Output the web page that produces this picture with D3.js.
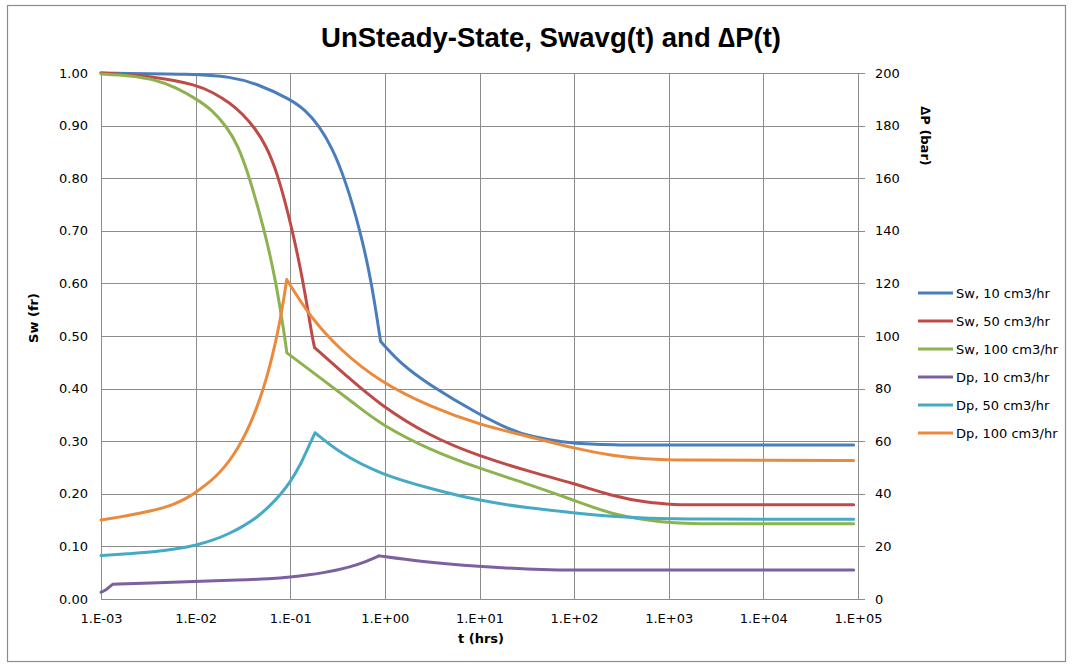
<!DOCTYPE html>
<html>
<head>
<meta charset="utf-8">
<script src="https://cdn.jsdelivr.net/npm/d3@7/dist/d3.min.js"></script>
<style>
  html, body { margin: 0; padding: 0; background: #fff; }
  svg { display: block; }
</style>
</head>
<body>
<svg id="chart" width="1073" height="669"></svg>
<script>
// Time in hours vs. average water saturation (fraction) and pressure drop (bar)
const sw10 = [
  [0.001, 1.000], [0.01, 0.998], [0.0231, 0.993], [0.0443, 0.980], [0.1, 0.950],
  [0.1432, 0.930], [0.2013, 0.900], [0.2767, 0.858], [0.3767, 0.800], [0.5507, 0.700],
  [0.7273, 0.600], [0.90, 0.490],
  [1.45, 0.448], [3.0, 0.406], [10.1, 0.350], [21.0, 0.322], [34.3, 0.309],
  [77, 0.298], [148, 0.294], [300, 0.293], [3000, 0.293], [30000, 0.293], [90000, 0.293]
];
const sw50 = [
  [0.001, 1.000], [0.00391, 0.993], [0.01035, 0.977], [0.01528, 0.963], [0.0231, 0.943],
  [0.03134, 0.922], [0.0425, 0.895], [0.05546, 0.862], [0.0734, 0.810], [0.1045, 0.705],
  [0.1384, 0.600], [0.1698, 0.500], [0.1807, 0.478],
  [0.40, 0.423], [0.889, 0.369], [3.0, 0.309], [10.1, 0.271], [34.3, 0.242],
  [98.4, 0.220], [260, 0.195], [588, 0.183], [1318, 0.179], [10000, 0.179], [90000, 0.179]
];
const sw100 = [
  [0.001, 0.998], [0.002, 0.995], [0.00388, 0.987], [0.00631, 0.972], [0.0103, 0.950],
  [0.01489, 0.930], [0.02133, 0.898], [0.02805, 0.862], [0.03664, 0.805], [0.0537, 0.700],
  [0.07125, 0.600], [0.08707, 0.500], [0.0921, 0.468],
  [0.224, 0.416], [0.505, 0.368], [0.889, 0.333], [3.0, 0.283], [10.1, 0.248],
  [34.3, 0.217], [98.4, 0.188], [260, 0.160], [588, 0.150], [1122, 0.144],
  [2500, 0.143], [20000, 0.143], [90000, 0.143]
];
const dp10 = [
  [0.001, 2.6], [0.00113, 3.4], [0.00133, 5.6],
  [0.003297, 6.1], [0.0095, 6.6], [0.02944, 7.2], [0.06109, 7.7], [0.1, 8.3],
  [0.1618, 9.2], [0.2223, 10.0], [0.3126, 11.0], [0.4285, 12.2], [0.6174, 14.0], [0.8688, 16.4],
  [2.36, 14.2], [10.1, 12.3], [34.3, 11.3], [77, 11.0], [1000, 11.0], [10000, 11.0], [90000, 11.0]
];
const dp50 = [
  [0.001, 16.5], [0.002028, 17.2], [0.00388, 18.0], [0.006209, 19.0], [0.0103, 20.5],
  [0.015276, 22.3], [0.0231, 25.0], [0.03207, 27.7], [0.0443, 31.0], [0.059, 34.9],
  [0.078, 39.5], [0.1, 44.5], [0.1285, 51.0], [0.166, 60.0], [0.1828, 63.2],
  [0.336, 55.4], [0.889, 47.5], [3.0, 42.0], [10.1, 37.3], [34.3, 34.5],
  [98.4, 32.8], [260, 31.3], [588, 30.7], [1980, 30.4], [10000, 30.3], [90000, 30.3]
];
const dp100 = [
  [0.001, 30.0], [0.001589, 31.2], [0.002582, 32.6], [0.003908, 34.0], [0.00581, 35.9],
  [0.007722, 37.9], [0.010276, 40.8], [0.013203, 43.7], [0.016717, 46.9], [0.020464, 50.4],
  [0.025053, 54.6], [0.030934, 60.2], [0.037575, 66.3], [0.044566, 73.0], [0.051967, 80.0],
  [0.059003, 86.8], [0.06627, 94.0], [0.072488, 100.2], [0.07797, 106.0], [0.084954, 113.5],
  [0.091809, 121.5],
  [0.162, 107.3], [0.336, 94.7], [0.889, 82.5], [3.0, 73.1], [10.1, 66.2],
  [34.3, 61.7], [98.4, 57.3], [260, 54.4], [588, 53.2], [1040, 52.9],
  [10000, 52.7], [90000, 52.7]
];

// times where a curve turns abruptly: breakthrough, pressure peak, start of plateau
const sw10Breaks = [0.90, 300];
const sw50Breaks = [0.1807, 1318];
const sw100Breaks = [0.0921, 2500];
const dp10Breaks = [0.00133, 0.8688, 77];
const dp50Breaks = [0.1828, 1980];
const dp100Breaks = [0.091809, 1040];

const seriesNames = ["Sw, 10 cm3/hr", "Sw, 50 cm3/hr", "Sw, 100 cm3/hr",
                     "Dp, 10 cm3/hr", "Dp, 50 cm3/hr", "Dp, 100 cm3/hr"];
const seriesColors = ["#4A7EBB", "#BE4B48", "#8DB24F", "#7D60A0", "#46AAC5", "#EB8A3C"];

const xTicks = [1e-3, 1e-2, 1e-1, 1e0, 1e1, 1e2, 1e3, 1e4, 1e5];
const swTicks = [0, 0.1, 0.2, 0.3, 0.4, 0.5, 0.6, 0.7, 0.8, 0.9, 1.0];
const dpTicks = [0, 20, 40, 60, 80, 100, 120, 140, 160, 180, 200];

const titleText = "UnSteady-State, Swavg(t) and \u2206P(t)";
const xTitle = "t (hrs)";
const ySwTitle = "Sw (fr)";
const yDpTitle = "\u2206P (bar)";

// ---- layout ----
const svg = d3.select("#chart");
const W = 1073, H = 669;
const plot = { left: 101, right: 858, top: 73, bottom: 599 };
const gridColor = "#8C8C8C";
const tickFont = "DejaVu Sans, Verdana, sans-serif";

svg.append("rect").attr("x", 0).attr("y", 0).attr("width", W).attr("height", H).attr("fill", "#fff");
svg.append("rect")
  .attr("x", 7.5).attr("y", 5.5).attr("width", 1058).attr("height", 656)
  .attr("fill", "none").attr("stroke", "#8C8C8C").attr("stroke-width", 1.2);

const x = d3.scaleLog().domain([1e-3, 1e5]).range([plot.left, plot.right]);
const ySw = d3.scaleLinear().domain([0, 1]).range([plot.bottom, plot.top]);
const yDp = d3.scaleLinear().domain([0, 200]).range([plot.bottom, plot.top]);

// gridlines
const grid = svg.append("g").attr("stroke", gridColor).attr("stroke-width", 1).attr("shape-rendering", "crispEdges");
grid.selectAll("line.h").data(swTicks).join("line")
  .attr("x1", plot.left).attr("x2", plot.right)
  .attr("y1", d => Math.round(ySw(d)) + 0.5).attr("y2", d => Math.round(ySw(d)) + 0.5);
grid.selectAll("line.v").data(xTicks).join("line")
  .attr("y1", plot.top).attr("y2", plot.bottom)
  .attr("x1", d => Math.round(x(d)) + 0.5).attr("x2", d => Math.round(x(d)) + 0.5);

// axes
const fmtX = d => {
  const e = Math.round(Math.log10(d));
  return "1.E" + (e < 0 ? "-" : "+") + String(Math.abs(e)).padStart(2, "0");
};
const xAxis = svg.append("g").attr("transform", `translate(0,${plot.bottom})`)
  .call(d3.axisBottom(x).tickValues(xTicks).tickFormat(fmtX).tickSize(0).tickPadding(15));
const yAxisL = svg.append("g").attr("transform", `translate(${plot.left},0)`)
  .call(d3.axisLeft(ySw).tickValues(swTicks).tickFormat(d3.format(".2f")).tickSize(0).tickPadding(13));
const yAxisR = svg.append("g").attr("transform", `translate(${plot.right},0)`)
  .call(d3.axisRight(yDp).tickValues(dpTicks).tickSize(7).tickPadding(10));

[xAxis, yAxisL, yAxisR].forEach(g => {
  g.selectAll(".domain").attr("stroke", gridColor).attr("shape-rendering", "crispEdges");
  g.selectAll(".tick line").attr("stroke", gridColor).attr("shape-rendering", "crispEdges");
  g.selectAll("text").attr("font-family", tickFont).attr("font-size", 13).attr("fill", "#000");
});

// series: smooth between break points, sharp corners at the breaks
const pathFor = (data, breaks, scale) => {
  const gen = d3.line().x(d => x(d[0])).y(d => scale(d[1])).curve(d3.curveBasis);
  const cuts = [data[0][0], ...breaks, data[data.length - 1][0]];
  let d = "";
  for (let i = 0; i < cuts.length - 1; i++) {
    const seg = data.filter(p => p[0] >= cuts[i] && p[0] <= cuts[i + 1]);
    d += gen(seg);
  }
  return d;
};

const seriesData = [sw10, sw50, sw100, dp10, dp50, dp100];
const seriesBreaks = [sw10Breaks, sw50Breaks, sw100Breaks, dp10Breaks, dp50Breaks, dp100Breaks];
const scales = [ySw, ySw, ySw, yDp, yDp, yDp];
const lines = svg.append("g").attr("fill", "none").attr("stroke-width", 3)
  .attr("stroke-linejoin", "round").attr("stroke-linecap", "round");
seriesData.forEach((data, i) => {
  lines.append("path")
    .attr("d", pathFor(data, seriesBreaks[i], scales[i]))
    .attr("stroke", seriesColors[i]);
});

// titles
svg.append("text").attr("x", 551).attr("y", 47).attr("text-anchor", "middle")
  .attr("font-family", "Liberation Sans, Arial, sans-serif")
  .attr("font-weight", "bold").attr("font-size", 27.5).text(titleText);
svg.append("text").attr("x", 481).attr("y", 643).attr("text-anchor", "middle")
  .attr("font-family", tickFont).attr("font-weight", "bold").attr("font-size", 13).text(xTitle);
svg.append("text").attr("transform", "translate(38,318) rotate(-90)").attr("text-anchor", "middle")
  .attr("font-family", tickFont).attr("font-weight", "bold").attr("font-size", 13).text(ySwTitle);
svg.append("text").attr("transform", "translate(921,136) rotate(90)").attr("text-anchor", "middle")
  .attr("font-family", tickFont).attr("font-weight", "bold").attr("font-size", 13).text(yDpTitle);

// legend
const legend = svg.append("g").attr("transform", "translate(918,293)");
const rows = legend.selectAll("g").data(seriesNames).join("g")
  .attr("transform", (d, i) => `translate(0,${i * 28})`);
rows.append("line").attr("x1", 0).attr("x2", 35).attr("y1", 0).attr("y2", 0)
  .attr("stroke", (d, i) => seriesColors[i]).attr("stroke-width", 3);
rows.append("text").attr("x", 38).attr("y", 5)
  .attr("font-family", tickFont).attr("font-size", 13).text(d => d);
</script>
</body>
</html>
